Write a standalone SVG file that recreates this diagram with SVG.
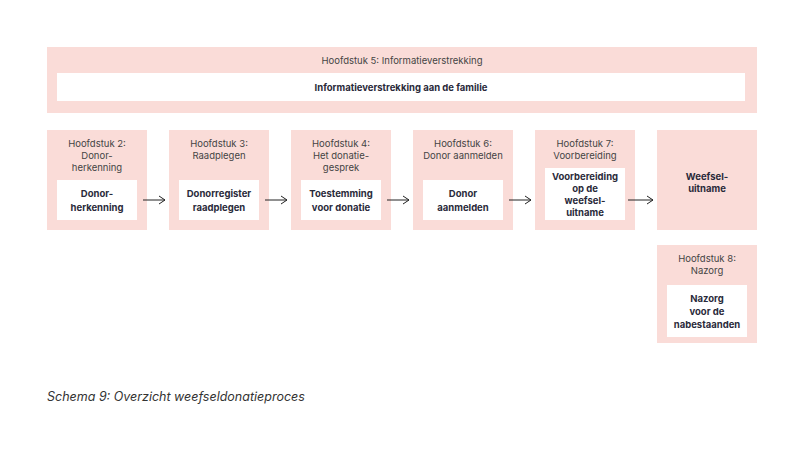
<svg xmlns="http://www.w3.org/2000/svg" width="805" height="474" viewBox="0 0 805 474">
<style>
.p{fill:#fadcd8}.w{fill:#fff}
text{font-family:Inter,"Liberation Sans",sans-serif;fill:#2a2a3a;text-anchor:middle}
.h{font-size:9.5px;fill:#444}
.b{font-size:9.5px;font-weight:700}
.c{stroke:#222;stroke-width:1;fill:none}
</style>
<defs><marker id="a" markerWidth="10" markerHeight="10" refX="9" refY="5" orient="auto" markerUnits="userSpaceOnUse"><path d="M3,1 L9,5 L3,9" fill="none" stroke="#222" stroke-width="1"/></marker></defs>
<rect width="805" height="474" fill="#fff"/>
<g id="h5"><rect class="p" x="47" y="47" width="710" height="66"/><rect class="w" x="57" y="73" width="688" height="28"/>
<text class="h" x="402" y="64">Hoofdstuk 5: Informatieverstrekking</text><text class="b" x="401" y="91">Informatieverstrekking aan de familie</text></g>
<g id="h2"><rect class="p" x="47" y="130" width="100" height="100"/><rect class="w" x="57" y="180" width="80" height="40"/>
<text class="h" x="97" y="147">Hoofdstuk 2:</text><text class="h" x="97" y="159">Donor-</text><text class="h" x="97" y="171">herkenning</text>
<text class="b" x="97" y="197">Donor-</text><text class="b" x="97" y="211">herkenning</text></g>
<g id="h3"><rect class="p" x="169" y="130" width="100" height="100"/><rect class="w" x="179" y="180" width="80" height="40"/>
<text class="h" x="219" y="147">Hoofdstuk 3:</text><text class="h" x="219" y="159">Raadplegen</text>
<text class="b" x="219" y="197">Donorregister</text><text class="b" x="219" y="211">raadplegen</text></g>
<g id="h4"><rect class="p" x="291" y="130" width="100" height="100"/><rect class="w" x="301" y="180" width="80" height="40"/>
<text class="h" x="341" y="147">Hoofdstuk 4:</text><text class="h" x="341" y="159">Het donatie-</text><text class="h" x="341" y="171">gesprek</text>
<text class="b" x="341" y="197">Toestemming</text><text class="b" x="341" y="211">voor donatie</text></g>
<g id="h6"><rect class="p" x="413" y="130" width="100" height="100"/><rect class="w" x="423" y="180" width="80" height="40"/>
<text class="h" x="463" y="147">Hoofdstuk 6:</text><text class="h" x="463" y="159">Donor aanmelden</text>
<text class="b" x="463" y="197">Donor</text><text class="b" x="463" y="211">aanmelden</text></g>
<g id="h7"><rect class="p" x="535" y="130" width="100" height="100"/><rect class="w" x="545" y="168" width="80" height="52"/>
<text class="h" x="585" y="147">Hoofdstuk 7:</text><text class="h" x="585" y="159">Voorbereiding</text>
<text class="b" x="585" y="180">Voorbereiding</text><text class="b" x="585" y="192">op de</text><text class="b" x="585" y="204">weefsel-</text><text class="b" x="585" y="216">uitname</text></g>
<g id="wu"><rect class="p" x="657" y="130" width="100" height="100"/>
<text class="b" x="707" y="180">Weefsel-</text><text class="b" x="707" y="192">uitname</text></g>
<g id="h8"><rect class="p" x="657" y="245" width="100" height="98"/><rect class="w" x="667" y="285" width="80" height="52"/>
<text class="h" x="707" y="262">Hoofdstuk 8:</text><text class="h" x="707" y="274">Nazorg</text>
<text class="b" x="707" y="302">Nazorg</text><text class="b" x="707" y="315">voor de</text><text class="b" x="707" y="328">nabestaanden</text></g>
<g id="connectors">
<path class="c" d="M143,200H165" marker-end="url(#a)"/>
<path class="c" d="M265,200H287" marker-end="url(#a)"/>
<path class="c" d="M387,200H409" marker-end="url(#a)"/>
<path class="c" d="M509,200H531" marker-end="url(#a)"/>
<path class="c" d="M628,200H653" marker-end="url(#a)"/>
</g>
<text x="47" y="401" style="font-size:12.5px;font-style:italic;text-anchor:start;fill:#333">Schema 9: Overzicht weefseldonatieproces</text>
</svg>
